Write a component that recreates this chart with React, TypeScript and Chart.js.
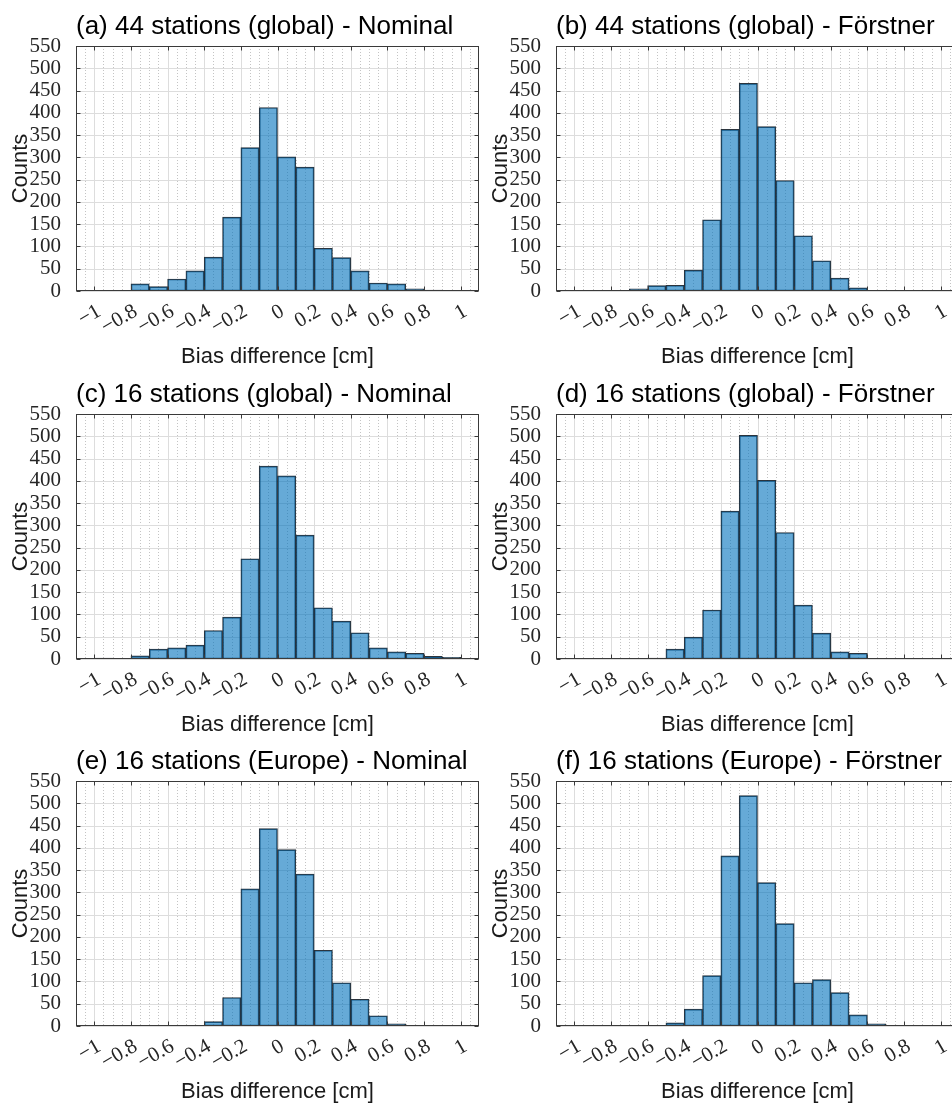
import React, { useEffect, useRef } from 'react';
import { Chart, registerables } from 'chart.js';

Chart.register(...registerables);

// Histogram bins: width 0.1 cm, from -1 to 1 (centres)
const binCenters = [-0.95, -0.85, -0.75, -0.65, -0.55, -0.45, -0.35, -0.25, -0.15, -0.05, 0.05, 0.15, 0.25, 0.35, 0.45, 0.55, 0.65, 0.75, 0.85, 0.95];

const xTickValues = [-1, -0.8, -0.6, -0.4, -0.2, 0, 0.2, 0.4, 0.6, 0.8, 1];
const yTickValues = [0, 50, 100, 150, 200, 250, 300, 350, 400, 450, 500, 550];

const counts44GlobalNominal = [1, 1, 16, 10, 27, 45, 76, 166, 322, 412, 301, 278, 96, 75, 45, 18, 16, 5, 2, 0];
const counts44GlobalForstner = [0, 0, 0, 5, 12, 13, 47, 160, 363, 466, 369, 248, 124, 68, 29, 7, 1, 0, 0, 0];
const counts16GlobalNominal = [2, 1, 7, 22, 25, 31, 64, 94, 225, 433, 411, 278, 115, 85, 59, 25, 16, 13, 6, 4];
const counts16GlobalForstner = [0, 0, 0, 1, 2, 22, 49, 110, 332, 502, 401, 284, 121, 58, 16, 13, 1, 0, 0, 0];
const counts16EuropeNominal = [0, 0, 0, 0, 0, 0, 10, 64, 308, 443, 396, 341, 170, 97, 60, 23, 5, 0, 0, 0];
const counts16EuropeForstner = [0, 0, 0, 0, 1, 7, 38, 113, 382, 517, 322, 230, 97, 104, 75, 25, 5, 0, 0, 0];

const panelTitles = [
  '(a) 44 stations (global) - Nominal',
  '(b) 44 stations (global) - Förstner',
  '(c) 16 stations (global) - Nominal',
  '(d) 16 stations (global) - Förstner',
  '(e) 16 stations (Europe) - Nominal',
  '(f) 16 stations (Europe) - Förstner',
];
const panelCounts = [
  counts44GlobalNominal,
  counts44GlobalForstner,
  counts16GlobalNominal,
  counts16GlobalForstner,
  counts16EuropeNominal,
  counts16EuropeForstner,
];

const xLabel = 'Bias difference [cm]';
const yLabel = 'Counts';

const X_MIN = -1.1;
const X_MAX = 1.1;
const Y_MIN = 0;
const Y_MAX = 550;

const CANVAS_W = 486;
const CANVAS_H = 368;
const AREA_LEFT = 76;
const AREA_RIGHT = 479;
const AREA_TOP = 46;
const AREA_BOTTOM = 291;

const rowTops = [0, 368, 735];
const colLefts = [0, 480];

const TICK_FONT = '"Liberation Serif", "Times New Roman", serif';

const fmt = (v: number) => {
  const r = Math.round(v * 100) / 100;
  if (r === 0) return '0';
  return (r < 0 ? '\u2212' : '') + String(Math.abs(r));
};

function makeDecor(title: string) {
  return {
    id: 'decor',
    beforeDatasetsDraw(chart: any) {
      const { ctx, chartArea: a, scales } = chart;
      const x = scales.x;
      const y = scales.y;
      ctx.save();
      // minor x grid (dotted) every 0.05
      ctx.lineWidth = 1;
      ctx.strokeStyle = '#c4c4c4';
      ctx.setLineDash([1, 2]);
      for (let k = -22; k <= 22; k++) {
        const v = k * 0.05;
        if (k % 4 === 0) continue;
        if (v <= X_MIN || v >= X_MAX) continue;
        const px = Math.round(x.getPixelForValue(v)) + 0.5;
        ctx.beginPath();
        ctx.moveTo(px, a.top);
        ctx.lineTo(px, a.bottom);
        ctx.stroke();
      }
      ctx.setLineDash([]);
      ctx.strokeStyle = '#dddddd';
      for (const v of xTickValues) {
        const px = Math.round(x.getPixelForValue(v)) + 0.5;
        ctx.beginPath();
        ctx.moveTo(px, a.top);
        ctx.lineTo(px, a.bottom);
        ctx.stroke();
      }
      for (const v of yTickValues) {
        const py = Math.round(y.getPixelForValue(v)) + 0.5;
        ctx.beginPath();
        ctx.moveTo(a.left, py);
        ctx.lineTo(a.right, py);
        ctx.stroke();
      }
      ctx.restore();
    },
    afterDatasetsDraw(chart: any) {
      const { ctx, chartArea: a, scales } = chart;
      const x = scales.x;
      const y = scales.y;
      ctx.save();
      ctx.strokeStyle = '#3a3a3a';
      ctx.lineWidth = 1;
      const L = Math.round(a.left) + 0.5;
      const R = Math.round(a.right) - 0.5;
      const T = Math.round(a.top) + 0.5;
      const B = Math.round(a.bottom) - 0.5;
      ctx.strokeRect(L, T, R - L, B - T);
      const tl = 4;
      for (const v of xTickValues) {
        const px = Math.round(x.getPixelForValue(v)) + 0.5;
        ctx.beginPath();
        ctx.moveTo(px, B);
        ctx.lineTo(px, B - tl);
        ctx.moveTo(px, T);
        ctx.lineTo(px, T + tl);
        ctx.stroke();
      }
      for (const v of yTickValues) {
        const py = Math.round(y.getPixelForValue(v)) + 0.5;
        ctx.beginPath();
        ctx.moveTo(L, py);
        ctx.lineTo(L + tl, py);
        ctx.moveTo(R, py);
        ctx.lineTo(R - tl, py);
        ctx.stroke();
      }
      // texts
      ctx.fillStyle = '#000000';
      ctx.font = '26px "Liberation Sans", Arial, sans-serif';
      ctx.textAlign = 'left';
      ctx.textBaseline = 'alphabetic';
      ctx.fillText(title, a.left, a.top - 12);
      ctx.textAlign = 'center';
      ctx.fillStyle = '#1a1a1a';
      ctx.font = '22px "Liberation Sans", Arial, sans-serif';
      ctx.fillText(xLabel, (a.left + a.right) / 2, a.bottom + 72);
      ctx.translate(27, (a.top + a.bottom) / 2);
      ctx.rotate(-Math.PI / 2);
      ctx.fillText(yLabel, 0, 0);
      ctx.restore();
    },
  };
}

function Panel({ title, counts, left, top }: { title: string; counts: number[]; left: number; top: number }) {
  const ref = useRef<HTMLCanvasElement | null>(null);
  useEffect(() => {
    if (!ref.current) return;
    const chart = new Chart(ref.current, {
      type: 'bar',
      data: {
        datasets: [
          {
            data: binCenters.map((c, i) => ({ x: c, y: counts[i] })),
            backgroundColor: 'rgba(0,114,189,0.6)',
            borderColor: 'rgba(20,30,40,0.9)',
            borderWidth: 1,
            borderSkipped: false,
            barPercentage: 1,
            categoryPercentage: 1,
          },
        ],
      },
      options: {
        animation: false,
        responsive: false,
        devicePixelRatio: 1,
        layout: { padding: { left: 0, right: CANVAS_W - AREA_RIGHT, top: AREA_TOP, bottom: 0 } },
        plugins: { legend: { display: false }, tooltip: { enabled: false }, title: { display: false } },
        scales: {
          x: {
            type: 'linear',
            min: X_MIN,
            max: X_MAX,
            offset: false,
            grid: { display: false, offset: false },
            border: { display: false },
            afterBuildTicks: (scale: any) => {
              scale.ticks = xTickValues.map((v) => ({ value: v }));
            },
            afterFit: (scale: any) => {
              scale.height = CANVAS_H - AREA_BOTTOM;
            },
            ticks: {
              autoSkip: false,
              minRotation: 30,
              maxRotation: 30,
              padding: 0,
              labelOffset: 5,
              color: '#262626',
              font: { family: TICK_FONT, size: 21 },
              callback: (v: any) => fmt(Number(v)),
            },
          },
          y: {
            type: 'linear',
            min: Y_MIN,
            max: Y_MAX,
            grid: { display: false },
            border: { display: false },
            afterBuildTicks: (scale: any) => {
              scale.ticks = yTickValues.map((v) => ({ value: v }));
            },
            afterFit: (scale: any) => {
              scale.width = AREA_LEFT;
            },
            ticks: {
              autoSkip: false,
              padding: 7,
              color: '#262626',
              font: { family: TICK_FONT, size: 21 },
              callback: (v: any) => fmt(Number(v)),
            },
          },
        },
      },
      plugins: [makeDecor(title)],
    } as any);
    return () => chart.destroy();
  }, [title, counts]);
  return (
    <canvas
      ref={ref}
      width={CANVAS_W}
      height={CANVAS_H}
      style={{ position: 'absolute', left, top, width: CANVAS_W, height: CANVAS_H }}
    />
  );
}

export default function App() {
  return (
    <div
      style={{
        position: 'absolute',
        left: 0,
        top: 0,
        width: 952,
        height: 1106,
        overflow: 'hidden',
        background: '#ffffff',
      }}
    >
      {panelTitles.map((t, i) => (
        <Panel
          key={t}
          title={t}
          counts={panelCounts[i]}
          left={colLefts[i % 2]}
          top={rowTops[Math.floor(i / 2)]}
        />
      ))}
    </div>
  );
}
